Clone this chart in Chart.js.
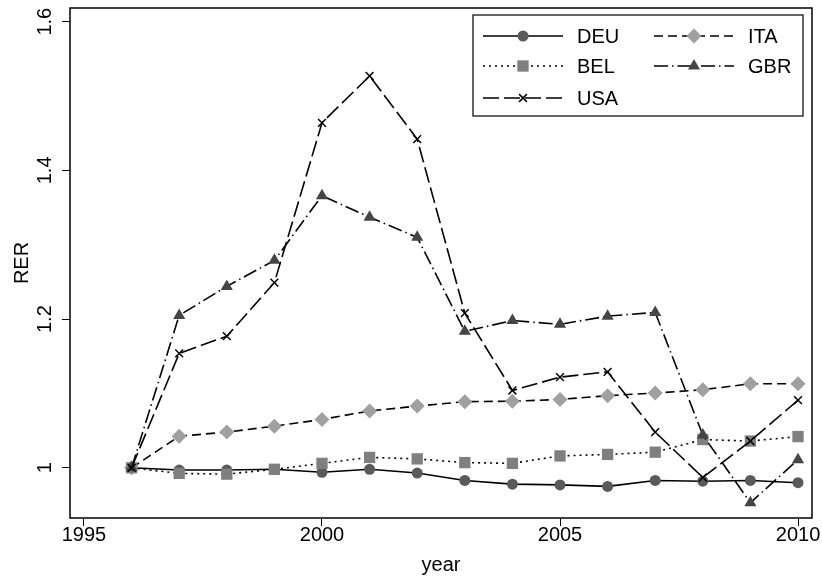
<!DOCTYPE html>
<html>
<head>
<meta charset="utf-8">
<style>
  html, body { margin: 0; padding: 0; background: #fff; }
  #c { display: block; }
</style>
<script src="https://cdn.jsdelivr.net/npm/chart.js@4/dist/chart.umd.min.js"></script>
</head>
<body>
<canvas id="c" width="822" height="579"></canvas>
<script>
// data (RER index, 1996 = 1)
var years = [1996, 1997, 1998, 1999, 2000, 2001, 2002, 2003, 2004, 2005, 2006, 2007, 2008, 2009, 2010];
var deu = [1.000, 0.997, 0.997, 0.998, 0.994, 0.998, 0.993, 0.983, 0.978, 0.977, 0.975, 0.983, 0.982, 0.983, 0.980];
var bel = [1.000, 0.9925, 0.9915, 0.998, 1.006, 1.014, 1.012, 1.007, 1.006, 1.016, 1.018, 1.021, 1.038, 1.036, 1.042];
var usa = [1.000, 1.154, 1.177, 1.249, 1.464, 1.527, 1.442, 1.208, 1.104, 1.122, 1.129, 1.048, 0.987, 1.036, 1.091];
var ita = [1.000, 1.0425, 1.048, 1.056, 1.065, 1.0765, 1.083, 1.089, 1.0895, 1.092, 1.097, 1.1005, 1.105, 1.113, 1.113];
var gbr = [1.000, 1.205, 1.244, 1.279, 1.366, 1.337, 1.310, 1.1835, 1.198, 1.193, 1.204, 1.209, 1.044, 0.953, 1.011];

var xTicks = [1995, 2000, 2005, 2010];
var yTicks = [1, 1.2, 1.4, 1.6];
var yTickLabels = ['1', '1.2', '1.4', '1.6'];

var FONT = '"Liberation Sans", Arial, Helvetica, sans-serif';
Chart.defaults.font.family = FONT;
Chart.defaults.font.size = 20;
Chart.defaults.color = '#000';

function pts(vals) {
  return vals.map(function (v, i) { return { x: years[i], y: v }; });
}

function series(label, vals, dash, style, radius, fill, order) {
  return {
    label: label,
    data: pts(vals),
    borderColor: '#000',
    borderWidth: 1.6,
    borderDash: dash,
    fill: false,
    tension: 0,
    pointStyle: style,
    pointRadius: radius,
    pointHoverRadius: radius,
    pointBackgroundColor: fill,
    pointBorderColor: style === 'crossRot' ? '#000' : fill,
    pointBorderWidth: style === 'crossRot' ? 1.5 : 0,
    order: order
  };
}

// legend grid: [dataset index, row, col]
var legendSlots = [[0, 0, 0], [1, 0, 1], [2, 1, 0], [3, 1, 1], [4, 2, 0]];

var frameAndLegend = {
  id: 'frameAndLegend',
  afterDraw: function (chart) {
    var ctx = chart.ctx;
    var a = chart.chartArea;
    ctx.save();
    ctx.strokeStyle = '#000';
    ctx.lineWidth = 1.5;
    ctx.setLineDash([]);
    ctx.strokeRect(a.left, a.top, a.right - a.left, a.bottom - a.top);

    // legend box in the upper right of the plot
    var bw = 330, bh = 101;
    var bx = a.right - 9 - bw, by = a.top + 7;
    ctx.fillStyle = '#fff';
    ctx.fillRect(bx, by, bw, bh);
    ctx.lineWidth = 1.2;
    ctx.strokeRect(bx, by, bw, bh);

    var colX = [10, 181];
    var rowY = [21, 51, 83];
    ctx.font = '20px ' + FONT;
    ctx.textBaseline = 'middle';
    ctx.textAlign = 'left';
    legendSlots.forEach(function (s) {
      var ds = chart.data.datasets[s[0]];
      var x0 = bx + colX[s[2]], y0 = by + rowY[s[1]];
      ctx.strokeStyle = ds.borderColor;
      ctx.lineWidth = ds.borderWidth;
      ctx.setLineDash(ds.borderDash);
      ctx.beginPath();
      ctx.moveTo(x0, y0);
      ctx.lineTo(x0 + 80, y0);
      ctx.stroke();
      ctx.setLineDash([]);
      ctx.fillStyle = ds.pointBackgroundColor;
      ctx.strokeStyle = ds.pointBorderColor;
      ctx.lineWidth = ds.pointBorderWidth;
      Chart.helpers.drawPoint(ctx, {
        pointStyle: ds.pointStyle,
        radius: ds.pointRadius,
        rotation: 0,
        borderWidth: ds.pointBorderWidth
      }, x0 + 40, y0);
      ctx.fillStyle = '#000';
      ctx.fillText(ds.label, x0 + 94, y0 + 1);
    });
    ctx.restore();
  }
};

new Chart(document.getElementById('c').getContext('2d'), {
  type: 'line',
  data: {
    datasets: [
      series('DEU', deu, [], 'circle', 5.5, '#5a5a5a', 5),
      series('ITA', ita, [9, 5], 'rectRot', 7.5, '#a0a0a0', 4),
      series('BEL', bel, [2, 4], 'rect', 8, '#7f7f7f', 3),
      series('GBR', gbr, [14, 4, 1.5, 4], 'triangle', 7, '#454545', 2),
      series('USA', usa, [16, 5], 'crossRot', 5.5, '#000', 1)
    ]
  },
  options: {
    responsive: false,
    animation: false,
    layout: { padding: { left: 0, right: 10, top: 7, bottom: 0 } },
    plugins: {
      legend: { display: false },
      tooltip: { enabled: false }
    },
    scales: {
      x: {
        type: 'linear',
        min: 1994.706,
        max: 2010.294,
        afterBuildTicks: function (s) { s.ticks = xTicks.map(function (v) { return { value: v }; }); },
        afterFit: function (s) {
          s.height = 61;
          s.paddingLeft = 0; s.paddingRight = 0;
        },
        ticks: { padding: -3, maxRotation: 0, callback: function (v) { return String(v); } },
        grid: { drawOnChartArea: false, drawTicks: true, tickLength: 8, tickColor: '#000', lineWidth: 1 },
        border: { display: false },
        title: { display: true, text: 'year', padding: { top: 0, bottom: 2 } }
      },
      y: {
        min: 0.9325,
        max: 1.6184,
        afterBuildTicks: function (s) { s.ticks = yTicks.map(function (v) { return { value: v }; }); },
        afterFit: function (s) {
          s.width = 70;
          s.paddingTop = 0; s.paddingBottom = 0;
        },
        ticks: {
          minRotation: 90, maxRotation: 90, crossAlign: 'center', padding: 3,
          callback: function (v) { return yTickLabels[yTicks.indexOf(v)]; }
        },
        grid: { drawOnChartArea: false, drawTicks: true, tickLength: 8, tickColor: '#000', lineWidth: 1 },
        border: { display: false },
        title: { display: true, text: 'RER', padding: { top: 10, bottom: 0 } }
      }
    }
  },
  plugins: [frameAndLegend]
});
</script>
</body>
</html>
